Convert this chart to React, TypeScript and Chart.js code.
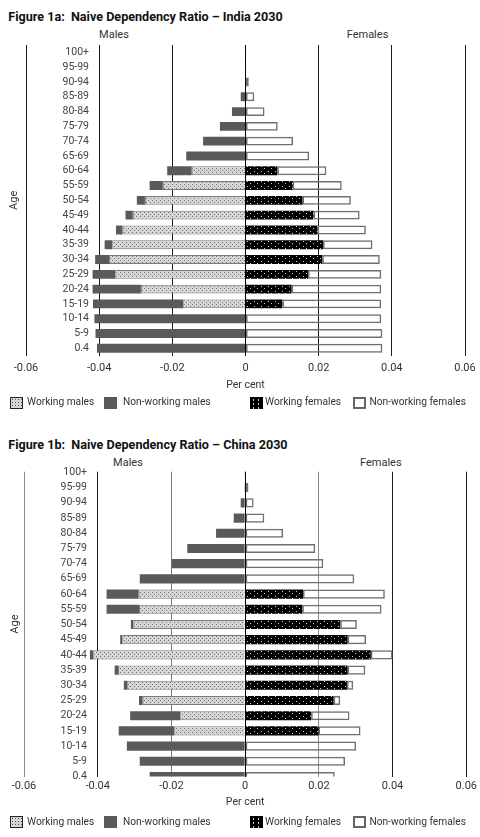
import React, { useEffect, useRef } from 'react';
import { Chart, registerables } from 'chart.js';

Chart.register(...registerables);

// ---------- data ----------
const AGE_GROUPS = ['100+', '95-99', '90-94', '85-89', '80-84', '75-79', '70-74', '65-69', '60-64', '55-59', '50-54', '45-49', '40-44', '35-39', '30-34', '25-29', '20-24', '15-19', '10-14', '5-9', '0.4'];
const X_TICKS = [-0.06, -0.04, -0.02, 0, 0.02, 0.04, 0.06];
const X_TICK_LABELS = ['-0.06', '-0.04', '-0.02', '0', '0.02', '0.04', '0.06'];
const SERIES_NAMES = ['Working males', 'Non-working males', 'Working females', 'Non-working females'];

const INDIA_WORKING_MALES = [0, 0, 0, 0, 0, 0, 0, 0, -0.0147, -0.0226, -0.0275, -0.0308, -0.0336, -0.0364, -0.0373, -0.0356, -0.0286, -0.0170, 0, 0, 0];
const INDIA_NONWORKING_MALES = [-0.0001, -0.0001, -0.0001, -0.0013, -0.0037, -0.0070, -0.0116, -0.0162, -0.0067, -0.0036, -0.0022, -0.0020, -0.0018, -0.0021, -0.0038, -0.0062, -0.0132, -0.0247, -0.0413, -0.0410, -0.0406];
const INDIA_WORKING_FEMALES = [0, 0, 0, 0, 0, 0, 0, 0, 0.0087, 0.0129, 0.0156, 0.0186, 0.0197, 0.0212, 0.0210, 0.0171, 0.0126, 0.0101, 0, 0, 0];
const INDIA_NONWORKING_FEMALES = [0.0002, 0.0002, 0.0009, 0.0024, 0.0052, 0.0088, 0.0130, 0.0174, 0.0134, 0.0134, 0.0132, 0.0126, 0.0132, 0.0135, 0.0157, 0.0200, 0.0245, 0.0270, 0.0371, 0.0374, 0.0374];

const CHINA_WORKING_MALES = [0, 0, 0, 0, 0, 0, 0, 0, -0.0289, -0.0288, -0.0303, -0.0333, -0.0412, -0.0345, -0.0319, -0.0278, -0.0176, -0.0192, 0, 0, 0];
const CHINA_NONWORKING_MALES = [-0.0001, -0.0002, -0.0012, -0.0031, -0.0079, -0.0157, -0.0199, -0.0286, -0.0087, -0.0088, -0.0007, -0.0006, -0.0009, -0.0009, -0.0010, -0.0010, -0.0136, -0.0151, -0.0321, -0.0286, -0.0259];
const CHINA_WORKING_FEMALES = [0, 0, 0, 0, 0, 0, 0, 0, 0.0157, 0.0155, 0.0258, 0.0278, 0.0341, 0.0278, 0.0276, 0.0240, 0.0179, 0.0199, 0, 0, 0];
const CHINA_NONWORKING_FEMALES = [0.0002, 0.0009, 0.0023, 0.0052, 0.0103, 0.0190, 0.0212, 0.0296, 0.0222, 0.0215, 0.0045, 0.0050, 0.0059, 0.0048, 0.0017, 0.0018, 0.0104, 0.0114, 0.0301, 0.0271, 0.0243];

// ---------- styling ----------
const FONT = 'Roboto';
const TICK_SIZE = 10.5;
const TEXT = '#333';
const TITLE_SIZE = 12.6;

function makePattern(kind: 'wm' | 'wf'): CanvasPattern {
  const c = document.createElement('canvas');
  const g = c.getContext('2d')!;
  if (kind === 'wm') {
    c.width = 4; c.height = 4;
    g.fillStyle = '#d6d6d6'; g.fillRect(0, 0, 4, 4);
    g.fillStyle = '#6e6e6e'; g.fillRect(0, 0, 1, 1); g.fillRect(2, 2, 1, 1);
  } else {
    c.width = 7; c.height = 5;
    g.fillStyle = '#000'; g.fillRect(0, 0, 7, 5);
    g.fillStyle = '#d0d0d0'; g.fillRect(2, 1, 1, 1); g.fillRect(5, 3, 1, 1);
  }
  return g.createPattern(c, 'repeat')!;
}

type Cfg = {
  top: number; height: number; padTop: number; padBottom: number; padRight: number;
  left: number; yMin: number; yMax: number; tickPad: number; xHeight: number; ageTitlePad: number;
  gridColors: string[];
};

function PyramidChart(props: { wm: number[]; nwm: number[]; wf: number[]; nwf: number[]; cfg: Cfg }) {
  const ref = useRef<HTMLCanvasElement>(null);
  useEffect(() => {
    const { wm, nwm, wf, nwf, cfg } = props;
    const canvas = ref.current!;
    const mctx = canvas.getContext('2d')!;
    mctx.font = `${TICK_SIZE}px ${FONT}`;
    const widest = Math.max(...AGE_GROUPS.map((s) => mctx.measureText(s).width));
    const nz = (arr: number[]) => arr.map((v) => (v === 0 ? null : v));
    const common = { barPercentage: 0.6, categoryPercentage: 1 };
    const chart = new Chart(canvas, {
      type: 'bar',
      data: {
        labels: AGE_GROUPS.map((_, i) => i),
        datasets: [
          { label: SERIES_NAMES[0], data: nz(wm), backgroundColor: makePattern('wm'), borderColor: '#7a7a7a', borderWidth: 1, ...common },
          { label: SERIES_NAMES[1], data: nz(nwm), backgroundColor: '#5a5a5a', borderWidth: 0, ...common },
          { label: SERIES_NAMES[2], data: nz(wf), backgroundColor: makePattern('wf'), borderWidth: 0, ...common },
          { label: SERIES_NAMES[3], data: nz(nwf), backgroundColor: 'rgba(255,255,255,0)', borderColor: '#707070', borderWidth: 1.5, borderSkipped: false, ...common },
        ],
      } as any,
      options: {
        indexAxis: 'y',
        responsive: false,
        animation: false,
        events: [],
        layout: { padding: { left: 0, right: cfg.padRight, top: cfg.padTop, bottom: cfg.padBottom } },
        plugins: { legend: { display: false }, tooltip: { enabled: false } },
        scales: {
          x: {
            type: 'linear',
            stacked: true,
            min: -0.06,
            max: 0.06,
            afterBuildTicks: (s: any) => { s.ticks = X_TICKS.map((v) => ({ value: v })); },
            afterFit: (s: any) => { s.height = cfg.xHeight; s.paddingLeft = 0; s.paddingRight = 0; },
            ticks: {
              callback: (_v: any, i: number) => X_TICK_LABELS[i],
              padding: cfg.tickPad,
              color: TEXT,
              font: { family: FONT, size: 11 },
              maxRotation: 0,
              autoSkip: false,
            },
            grid: { color: (c: any) => cfg.gridColors[c.index] ?? '#222', lineWidth: 1, drawTicks: false },
            border: { display: false },
            title: { display: true, text: 'Per cent', color: TEXT, font: { family: FONT, size: 10.5 }, padding: 0 },
          },
          y: {
            type: 'linear',
            stacked: true,
            reverse: true,
            offset: false,
            min: cfg.yMin,
            max: cfg.yMax,
            afterBuildTicks: (s: any) => { s.ticks = AGE_GROUPS.map((_, i) => ({ value: i })); },
            afterFit: (s: any) => { s.width = cfg.left; s.paddingTop = 0; s.paddingBottom = 0; },
            ticks: {
              callback: (_v: any, i: number) => AGE_GROUPS[i],
              autoSkip: false,
              mirror: true,
              crossAlign: 'far',
              padding: 63 - widest,
              color: '#444',
              font: { family: FONT, size: TICK_SIZE },
            },
            grid: { display: false },
            border: { display: false },
            title: { display: true, text: 'Age', color: TEXT, font: { family: FONT, size: 11 }, padding: { top: cfg.ageTitlePad, bottom: 0 } },
          },
        },
      } as any,
    });
    return () => chart.destroy();
  }, []);
  return (
    <canvas
      ref={ref}
      width={480}
      height={props.cfg.height}
      style={{ position: 'absolute', left: 0, top: props.cfg.top, width: 480, height: props.cfg.height }}
    />
  );
}

function Swatch({ kind, left, top }: { kind: number; left: number; top: number }) {
  const base: React.CSSProperties = { position: 'absolute', left, top, width: 13, height: 12, boxSizing: 'border-box' };
  const styles: React.CSSProperties[] = [
    { background: 'radial-gradient(#555 0.7px, transparent 0.9px) 0 0 / 3px 3px, #d6d6d6', border: '1.5px solid #222' },
    { background: '#5a5a5a' },
    { background: 'radial-gradient(#ddd 0.6px, transparent 0.9px) 1px 1px / 5px 4px, #000' },
    { background: '#fff', border: '2px solid #666' },
  ];
  return <div style={{ ...base, ...styles[kind] }} />;
}

const LEGEND_BOX_X = [10, 104, 250, 353];
const LEGEND_TEXT_X = [27, 123, 265, 369.5];

function Legend({ top }: { top: number }) {
  return (
    <>
      {SERIES_NAMES.map((name, i) => (
        <React.Fragment key={name}>
          <Swatch kind={i} left={LEGEND_BOX_X[i]} top={top + 0.5} />
          <div style={{ position: 'absolute', left: LEGEND_TEXT_X[i], top, fontSize: 10.2, lineHeight: '12px', whiteSpace: 'nowrap', color: TEXT }}>{name}</div>
        </React.Fragment>
      ))}
    </>
  );
}

function Figure(props: {
  title: string; titleTop: number; sideTop: number; malesX: number; femalesX: number; legendTop: number;
  wm: number[]; nwm: number[]; wf: number[]; nwf: number[]; cfg: Cfg;
}) {
  return (
    <>
      <div style={{ position: 'absolute', left: 8.3, top: props.titleTop, fontSize: TITLE_SIZE, fontWeight: 700, lineHeight: '16px', whiteSpace: 'pre', color: '#111' }}>{props.title}</div>
      <div style={{ position: 'absolute', left: props.malesX - 50, width: 100, textAlign: 'center', top: props.sideTop, fontSize: 11, lineHeight: '13px', color: TEXT }}>Males</div>
      <div style={{ position: 'absolute', left: props.femalesX - 50, width: 100, textAlign: 'center', top: props.sideTop, fontSize: 11, lineHeight: '13px', color: TEXT }}>Females</div>
      <PyramidChart wm={props.wm} nwm={props.nwm} wf={props.wf} nwf={props.nwf} cfg={props.cfg} />
      <Legend top={props.legendTop} />
    </>
  );
}

const CFG_INDIA: Cfg = {
  top: 40, height: 360, padTop: 5, padBottom: 8.7, padRight: 15, left: 26,
  yMin: -0.5, yMax: 20.5, tickPad: 5.7, xHeight: 35.6, ageTitlePad: 7.4,
  gridColors: ['#1a1a1a', '#1a1a1a', '#1a1a1a', '#000', '#1a1a1a', '#1a1a1a', '#1a1a1a'],
};
const CFG_CHINA: Cfg = {
  top: 460, height: 360, padTop: 11.7, padBottom: 11, padRight: 13.7, left: 24,
  yMin: -0.05, yMax: 20.0, tickPad: 2.9, xHeight: 32.5, ageTitlePad: 8.7,
  gridColors: ['#8a8a8a', '#1a1a1a', '#7a7a7a', '#000', '#8a8a8a', '#1a1a1a', '#1a1a1a'],
};

export default function App() {
  return (
    <div style={{ position: 'relative', width: 480, height: 837, fontFamily: FONT, overflow: 'hidden' }}>
      <style>{'body{margin:0}'}</style>
      <Figure
        title={'Figure 1a:  Naive Dependency Ratio \u2013 India 2030'}
        titleTop={8.7} sideTop={28} malesX={114} femalesX={367.5} legendTop={396.2}
        wm={INDIA_WORKING_MALES} nwm={INDIA_NONWORKING_MALES} wf={INDIA_WORKING_FEMALES} nwf={INDIA_NONWORKING_FEMALES}
        cfg={CFG_INDIA}
      />
      <Figure
        title={'Figure 1b:  Naive Dependency Ratio \u2013 China 2030'}
        titleTop={436.7} sideTop={456.4} malesX={128} femalesX={380.8} legendTop={815.5}
        wm={CHINA_WORKING_MALES} nwm={CHINA_NONWORKING_MALES} wf={CHINA_WORKING_FEMALES} nwf={CHINA_NONWORKING_FEMALES}
        cfg={CFG_CHINA}
      />
    </div>
  );
}
